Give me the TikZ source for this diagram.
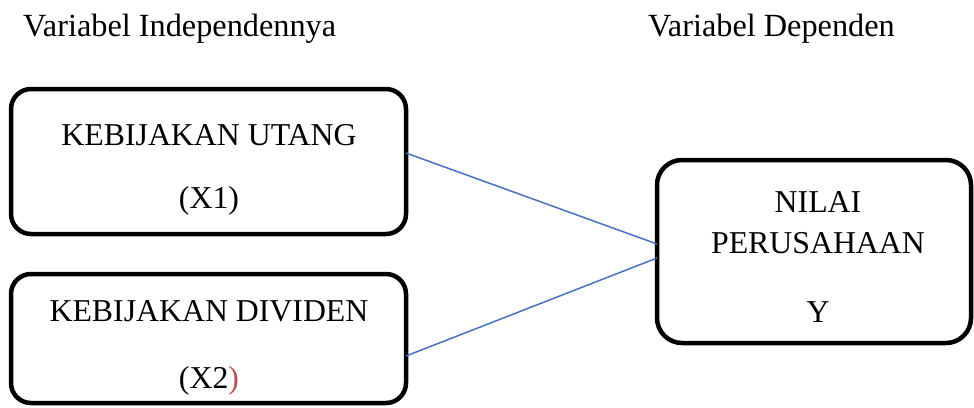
\documentclass[tikz,border=0pt]{standalone}
\usepackage{fontspec}
\setmainfont{Liberation Serif}
\definecolor{linkblue}{HTML}{4472C4}
\definecolor{parred}{HTML}{C0504D}
\begin{document}
\begin{tikzpicture}[x=1pt,y=-1pt,
  varbox/.style={draw=black,line width=4.5pt,rounded corners=20pt},
  lbl/.style={anchor=base,inner sep=0pt,font=\fontsize{31.8}{37}\selectfont},
  hdr/.style={anchor=base west,inner sep=0pt,font=\fontsize{32.3}{38}\selectfont},
  link/.style={draw=linkblue,line width=1.5pt}]
\useasboundingbox (0,0) rectangle (974,407);
% headers
\node[hdr] (hind) at (23,36) {Variabel Independennya};
\node[hdr] (hdep) at (648,36) {Variabel Dependen};
% boxes
\draw[varbox] (11,89) rectangle (406,234);
\coordinate (b1e1) at (406,153);
\draw[varbox] (11,274) rectangle (406,403);
\coordinate (b2e1) at (406,356);
\draw[varbox,rounded corners=25pt] (657,160) rectangle (971,343);
\coordinate (b3w1) at (657,244);
\coordinate (b3w2) at (657,258);
% texts
\node[lbl] (t1a) at (209,145) {KEBIJAKAN UTANG};
\node[lbl] (t1b) at (209,208) {(X1)};
\node[lbl] (t2a) at (209,321) {KEBIJAKAN DIVIDEN};
\node[lbl] (t2b) at (209,388) {(X2\textcolor{parred}{)}};
\node[lbl] (t3a) at (818,212) {NILAI};
\node[lbl] (t3b) at (818,253) {PERUSAHAAN};
\node[lbl] (t3c) at (818,322) {Y};
% connectors
\draw[link] (b1e1) -- (b3w1);
\draw[link] (b2e1) -- (b3w2);
\end{tikzpicture}
\end{document}
